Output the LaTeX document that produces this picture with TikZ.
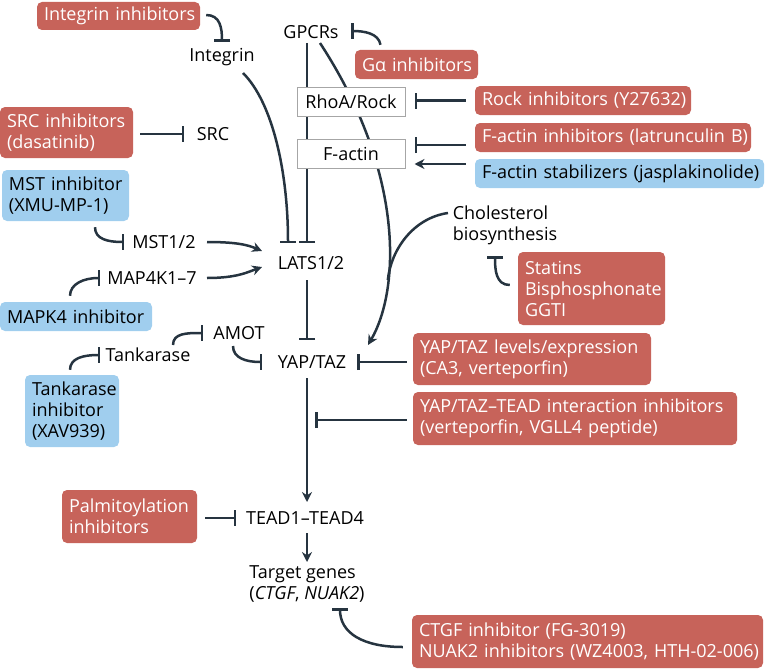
\documentclass[tikz,border=0pt]{standalone}
\usepackage{fontspec}
\setmainfont{Open Sans}
\usetikzlibrary{arrows.meta,calc}
\definecolor{boxred}{RGB}{199,99,90}
\definecolor{boxblue}{RGB}{160,206,238}
\definecolor{linec}{RGB}{38,52,64}
\pgfdeclarelayer{bg}
\pgfsetlayers{bg,main}
\begin{document}
\begin{tikzpicture}[x=1pt,y=-1pt,
  every node/.style={font=\fontsize{18}{21}\selectfont},
  lbl/.style={inner sep=0pt, text=black},
  box/.style={rounded corners=5pt, inner xsep=7pt, inner ysep=0pt, align=left},
  redbox/.style={box, fill=boxred, text=white},
  bluebox/.style={box, fill=boxblue, text=black},
  whitebox/.style={draw=gray!70, fill=white, line width=1pt, inner sep=0pt, align=center, text=black},
  ln/.style={draw=linec, line width=2.5pt},
  inh/.style={ln, -{Bar[width=16pt]}},
  act/.style={ln, -{Stealth[length=10pt,width=10pt]}},
]
\useasboundingbox (0,0) rectangle (765,669);

% boxes
\node[redbox, text width=149pt, minimum height=28pt] (intinh) at (118.5,16) {\mbox{Integrin inhibitors}};
\node[redbox, text width=109pt, minimum height=29pt] (galpha) at (416.5,64.5) {\mbox{Gα inhibitors}};
\node[redbox, text width=202pt, minimum height=29pt] (rockinh) at (583,100.5) {\mbox{Rock inhibitors (Y27632)}};
\node[redbox, text width=262pt, minimum height=29pt] (factinh) at (613,137.5) {\mbox{F-actin inhibitors (latrunculin B)}};
\node[bluebox, text width=275pt, minimum height=29pt] (factst) at (619.5,173.5) {\mbox{F-actin stabilizers (jasplakinolide)}};
\node[redbox, text width=119pt, minimum height=51pt] (srcinh) at (66.5,132.5) {\mbox{SRC inhibitors}\\(dasatinib)};
\node[bluebox, text width=113pt, minimum height=51pt] (mstinh) at (65.5,195.5) {\mbox{MST inhibitor}\\(XMU-MP-1)};
\node[bluebox, text width=138pt, minimum height=29pt] (mapkinh) at (76,316.5) {\mbox{MAPK4 inhibitor}};
\node[bluebox, text width=80pt, minimum height=72pt] (tankinh) at (72,411) {Tankarase\\inhibitor\\(XAV939)};
\node[redbox, text width=133pt, minimum height=73pt] (statins) at (591.5,288.5) {Statins\\Bisphosphonate\\GGTI};
\node[redbox, text width=224pt, minimum height=52pt] (yaplev) at (532,359) {\mbox{YAP/TAZ levels/expression}\\\mbox{(CA3, verteporfin)}};
\node[redbox, text width=310pt, minimum height=53pt] (teadinh) at (575,418.5) {\mbox{YAP/TAZ–TEAD interaction inhibitors}\\\mbox{(verteporfin, VGLL4 peptide)}};
\node[redbox, text width=121pt, minimum height=53pt] (palm) at (129.5,516.5) {Palmitoylation\\inhibitors};
\node[redbox, text width=337pt, minimum height=53pt] (ctgf) at (587.5,641.5) {\mbox{CTGF inhibitor (FG-3019)}\\\mbox{NUAK2 inhibitors (WZ4003, HTH-02-006)}};
\node[whitebox, minimum width=108pt, minimum height=29pt] (rho) at (351,101.5) {RhoA/Rock};
\node[whitebox, minimum width=108pt, minimum height=29pt] (factin) at (351,153.5) {F-actin};

% labels
\node[lbl] (integrin) at (222,57) {Integrin};
\node[lbl] (gpcr) at (311,32) {GPCRs};
\node[lbl] (src) at (213,134) {SRC};
\node[lbl] (mst) at (164,242) {MST1/2};
\node[lbl] (map) at (152,278) {MAP4K1–7};
\node[lbl] (lats) at (311,263) {LATS1/2};
\node[lbl] (amot) at (239,333) {AMOT};
\node[lbl] (tank) at (148,355) {Tankarase};
\node[lbl] (yap) at (312,362) {YAP/TAZ};
\node[lbl, align=left] (chol) at (505,225) {Cholesterol\\biosynthesis};
\node[lbl] (tead) at (305,518) {TEAD1–TEAD4};
\node[lbl, align=left] (target) at (307,584) {Target genes\\(\textit{CTGF}, \textit{NUAK2})};

\coordinate (spine) at (307,0);

\begin{pgfonlayer}{bg}
\draw[inh] ($(gpcr -| spine)+(0,11)$) -- ($(lats -| spine)+(0,-20)$);
\draw[act] ($(gpcr)+(9,11)$) .. controls +(85,130) and +(32,-55) .. ($(yap)+(56,-17)$) coordinate[pos=0.7] (merge);
\end{pgfonlayer}

\draw[inh] ($(integrin)+(21,16)$) .. controls +(30,30) and +(0,-70) .. ($(lats -| spine)+(-19,-20)$);
\draw[inh] ($(intinh.east)+(6,-1)$) .. controls +(14,0) and +(0,-14) .. ($(integrin)+(0,-15)$);
\draw[inh] ($(galpha.north)+(-36,-5)$) .. controls +(-2,-12) and +(12,0) .. ($(gpcr)+(40,-1)$);
\draw[inh] ($(rockinh.west)+(-9,0)$) -- ($(rho.east |- rockinh.west)+(9,0)$);
\draw[inh] ($(factinh.west)+(-9,7.5)$) -- ($(factin.east |- factinh.west)+(9,7.5)$);
\draw[act] ($(factst.west)+(-9,-9.5)$) -- ($(factin.east |- factst.west)+(9,-9.5)$);
\draw[inh] ($(srcinh.east |- src)+(7,0)$) -- ($(src)+(-29,0)$);
\draw[inh] ($(mstinh.south)+(29.5,6)$) .. controls +(0,12) and +(-16,0) .. ($(mst)+(-40,0)$);
\draw[act] ($(mst)+(43,0)$) .. controls +(30,0) and +(-14,-6) .. ($(lats)+(-49,-12)$);
\draw[act] ($(map)+(55,0)$) .. controls +(30,0) and +(-14,5) .. ($(lats)+(-49,4)$);
\draw[inh] ($(mapkinh.north)+(-6,-6)$) .. controls +(0,-12) and +(-16,0) .. ($(map)+(-52,0)$);
\draw[inh] ($(lats -| spine)+(0,17)$) -- ($(yap -| spine)+(0,-22)$);
\draw[inh] ($(tank)+(25,-10)$) .. controls +(0,-12) and +(-16,0) .. ($(amot)+(-36,0)$);
\draw[inh] ($(tankinh.north)+(-2,-5)$) .. controls +(0,-12) and +(-16,0) .. ($(tank)+(-48,0)$);
\draw[inh] ($(amot)+(-6,13)$) .. controls +(0,12) and +(-16,0) .. ($(yap)+(-50,0)$);
\draw[inh] ($(yaplev.west |- yap)+(-6,0)$) -- ($(yap)+(45,0)$);
\draw[act] ($(yap -| spine)+(0,16)$) -- ($(tead -| spine)+(0,-16)$);
\draw[inh] ($(teadinh.west)+(-6,1.5)$) -- ($(spine |- teadinh.west)+(8,1.5)$);
\draw[inh] ($(palm.east |- tead)+(8,0)$) -- ($(tead)+(-69,0)$);
\draw[act] ($(tead -| spine)+(0,15)$) -- ($(target -| spine)+(0,-22)$);
\draw[inh] ($(ctgf.west)+(-9,5.5)$) .. controls +(-40,0) and +(0,25) .. ($(target)+(33,24)$);
\draw[inh] ($(statins.west)+(-8,-3.5)$) .. controls +(-14,0) and +(0,14) .. ($(chol)+(-10,31)$);
\draw[ln] ($(chol)+(-57,-12)$) .. controls +(-35,5) and +(3,-30) .. (merge);
\end{tikzpicture}
\end{document}
